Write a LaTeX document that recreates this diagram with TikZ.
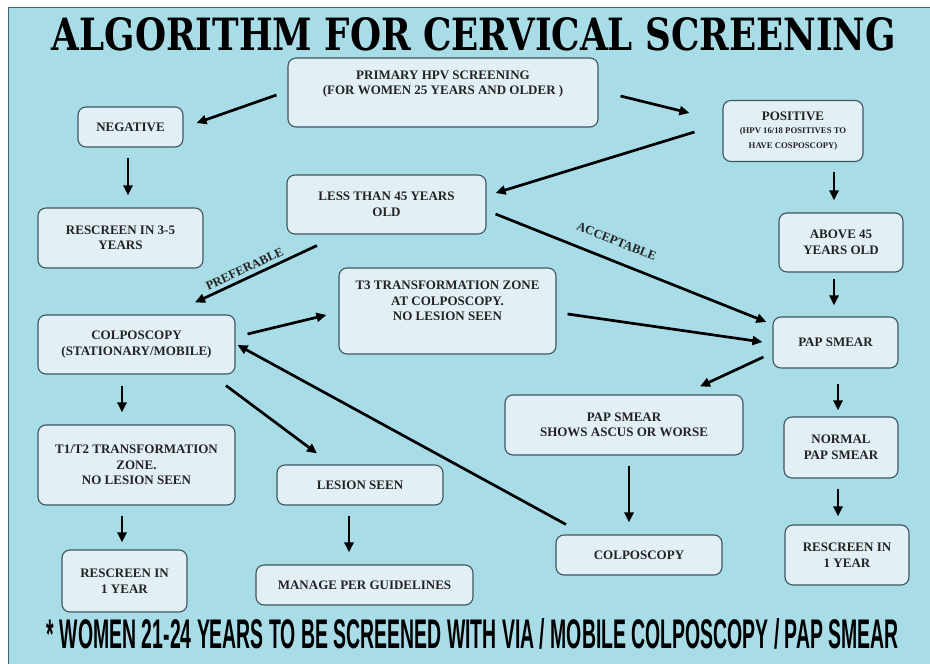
\documentclass[tikz,border=0pt]{standalone}
\usepackage{fontspec}
\usepackage{graphicx}
\setmainfont{Liberation Serif}
\newfontfamily\titlefont{DejaVu Serif}
\newfontfamily\footfont{Liberation Sans}
\usetikzlibrary{arrows.meta,calc}
\definecolor{bgcyan}{RGB}{168,220,231}
\definecolor{boxfill}{RGB}{226,240,246}
\definecolor{boxline}{RGB}{62,86,96}
\definecolor{txtcol}{RGB}{35,35,35}
\definecolor{framecol}{RGB}{70,100,112}
\tikzset{
  flowbox/.style={draw=boxline, line width=1.1pt, fill=boxfill, rounded corners=8pt,
    inner sep=0pt, align=center, text=txtcol,
    font=\fontsize{13}{15.5}\selectfont\bfseries},
  flowarrow/.style={line width=2.7pt, black, -{Triangle[length=10pt,width=9pt]}},
  arrowlabel/.style={font=\fontsize{12.5}{14}\selectfont\bfseries, text=txtcol, sloped, inner sep=1pt}
}
\begin{document}
\begin{tikzpicture}[x=1pt,y=-1pt]
\useasboundingbox (0,0) rectangle (930,664);
\fill[white] (0,0) rectangle (930,664);
\filldraw[fill=bgcyan, draw=framecol, line width=1pt] (8,7) rectangle (932,667);

% title
\node[anchor=base, inner sep=0pt] (title) at (474,50)
  {\resizebox{844pt}{33pt}{\titlefont\bfseries ALGORITHM FOR CERVICAL SCREENING}};

% boxes
\node[flowbox, minimum width=310pt, minimum height=69pt] (prim) at (443,92.5)
  {PRIMARY HPV SCREENING\\(FOR WOMEN 25 YEARS AND OLDER )\\[4pt]};
\node[flowbox, minimum width=105pt, minimum height=40pt] (neg) at (130.5,127) {NEGATIVE};
\node[flowbox, minimum width=140pt, minimum height=61pt] (pos) at (793,131)
  {POSITIVE\\[-2pt]{\fontsize{8.7}{13}\selectfont (HPV 16/18 POSITIVES TO}\\[-1pt]{\fontsize{8.7}{13}\selectfont HAVE COSPOSCOPY)}};
\node[flowbox, minimum width=165pt, minimum height=60pt] (r35) at (120.5,238)
  {RESCREEN IN 3-5\\YEARS};
\node[flowbox, minimum width=199pt, minimum height=59pt] (lt45) at (386.5,204.5)
  {LESS THAN 45 YEARS\\OLD};
\node[flowbox, minimum width=124pt, minimum height=59pt] (ab45) at (841,242.5)
  {ABOVE 45\\YEARS OLD};
\node[flowbox, minimum width=217pt, minimum height=86pt] (t3) at (447.5,311)
  {T3 TRANSFORMATION ZONE\\AT COLPOSCOPY.\\NO LESION SEEN\\[5pt]};
\node[flowbox, minimum width=197pt, minimum height=59pt] (colp) at (136.5,344.5)
  {COLPOSCOPY\\(STATIONARY/MOBILE)};
\node[flowbox, minimum width=125pt, minimum height=51pt] (pap) at (835.5,342.5) {PAP SMEAR};
\node[flowbox, minimum width=238pt, minimum height=60pt] (ascus) at (624,425)
  {PAP SMEAR\\SHOWS ASCUS OR WORSE};
\node[flowbox, minimum width=197pt, minimum height=80pt] (t12) at (136.5,465)
  {T1/T2 TRANSFORMATION\\ZONE.\\NO LESION SEEN};
\node[flowbox, minimum width=166pt, minimum height=40pt] (lesion) at (360,485) {LESION SEEN};
\node[flowbox, minimum width=114pt, minimum height=61pt] (normal) at (841,447.5)
  {NORMAL\\PAP SMEAR};
\node[flowbox, minimum width=166pt, minimum height=40pt] (colp2) at (639,555) {COLPOSCOPY};
\node[flowbox, minimum width=125pt, minimum height=62pt] (rs1l) at (124.5,581)
  {RESCREEN IN\\1 YEAR};
\node[flowbox, minimum width=217pt, minimum height=40pt] (manage) at (364.5,585)
  {MANAGE PER GUIDELINES};
\node[flowbox, minimum width=124pt, minimum height=60pt] (rs1r) at (847,555)
  {RESCREEN IN\\1 YEAR};

% arrows
\draw[flowarrow] ($(prim.west)+(-11,2.5)$) -- ($(neg.east)+(13,-4)$);
\draw[flowarrow] ($(prim.east)+(22,3.5)$) -- ($(pos.west)+(-33,-18)$);
\draw[flowarrow] ($(pos.west)+(-28,1)$) -- ($(lt45.east)+(9,-11.5)$);
\draw[flowarrow] ($(neg.south)+(-2.5,10)$) -- ($(r35.north)+(7.5,-12)$);
\draw[flowarrow] ($(pos.south)+(41,10)$) -- ($(ab45.north)+(-7,-12)$);
\draw[flowarrow] ($(ab45.south)+(-7,6)$) -- ($(pap.north)+(-1.5,-11)$);
\draw[flowarrow] ($(lt45.east)+(9,9.5)$) -- node[arrowlabel, pos=0.42, above=13pt] {ACCEPTABLE} ($(pap.west)+(-6,-20.5)$);
\draw[flowarrow] ($(lt45.south)+(-69.5,11)$) -- node[arrowlabel, pos=0.56, above=3pt] {PREFERABLE} ($(colp.north)+(58.5,-12)$);
\draw[flowarrow] ($(colp.east)+(12,-10.5)$) -- ($(t3.west)+(-12,4)$);
\draw[flowarrow] ($(t3.east)+(11,3)$) -- ($(pap.west)+(-10,-0.5)$);
\draw[flowarrow] ($(pap.west)+(-9,14.5)$) -- ($(ascus.north)+(76,-8)$);
\draw[flowarrow] ($(pap.south)+(2.5,15)$) -- ($(normal.north)+(-3,-6)$);
\draw[flowarrow] ($(ascus.south)+(5,10)$) -- ($(colp2.north)+(-10,-12)$);
\draw[flowarrow] ($(colp2.north)+(-73,-10)$) -- ($(colp.east)+(2,0.5)$);
\draw[flowarrow] ($(colp.south)+(-14.5,11)$) -- ($(t12.north)+(-14.5,-12)$);
\draw[flowarrow] ($(colp.south)+(89.5,11)$) -- ($(lesion.north)+(-43,-11)$);
\draw[flowarrow] ($(t12.south)+(-14.5,10)$) -- ($(rs1l.north)+(-2.5,-7)$);
\draw[flowarrow] ($(lesion.south)+(-11,10)$) -- ($(manage.north)+(-15.5,-12)$);
\draw[flowarrow] ($(normal.south)+(-3,10)$) -- ($(rs1r.north)+(-9,-8)$);

% footer
\node[anchor=base, inner sep=0pt] (foot) at (473,648)
  {\resizebox{852pt}{30pt}{\footfont\bfseries * WOMEN 21-24 YEARS TO BE SCREENED WITH VIA / MOBILE COLPOSCOPY / PAP SMEAR}};
\end{tikzpicture}
\end{document}
